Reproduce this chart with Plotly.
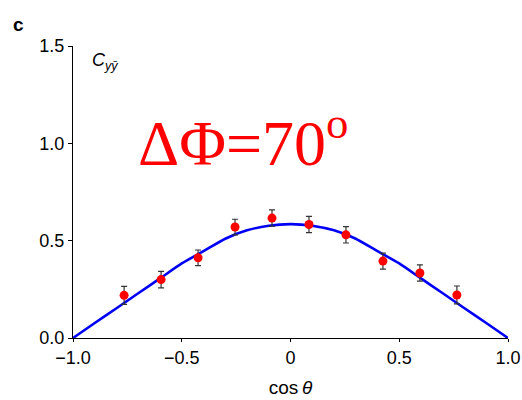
import plotly.graph_objects as go

# Measured C_yy-bar versus cos(theta)
cos_theta = [-0.765, -0.595, -0.425, -0.255, -0.085, 0.085, 0.255, 0.425, 0.595, 0.765]
c_meas = [0.219, 0.300, 0.412, 0.570, 0.616, 0.583, 0.530, 0.395, 0.334, 0.221]
c_err = [0.046, 0.042, 0.040, 0.040, 0.042, 0.042, 0.042, 0.041, 0.042, 0.046]

# Theory curve sampled along cos(theta)
curve_x = [-1.0, -0.9, -0.8, -0.7, -0.6, -0.5, -0.4, -0.3, -0.2, -0.1, 0.0,
           0.1, 0.2, 0.3, 0.4, 0.5, 0.6, 0.7, 0.8, 0.9, 1.0]
curve_y = [0.0, 0.077, 0.153, 0.230, 0.306, 0.383, 0.446, 0.510, 0.553, 0.577, 0.585,
           0.577, 0.553, 0.510, 0.446, 0.383, 0.306, 0.230, 0.153, 0.077, 0.0]

x_ticks = [-1.0, -0.5, 0.0, 0.5, 1.0]
x_ticktext = ["\u22121.0", "\u22120.5", "0", "0.5", "1.0"]
y_ticks = [0.0, 0.5, 1.0, 1.5]
y_ticktext = ["0.0", "0.5", "1.0", "1.5"]

font = "Liberation Sans, Arial, sans-serif"

fig = go.Figure()
fig.add_trace(go.Scatter(
    x=curve_x, y=curve_y, mode="lines",
    line=dict(color="#0000f5", width=2.6, shape="spline", smoothing=0.6),
    hoverinfo="skip", showlegend=False,
))
fig.add_trace(go.Scatter(
    x=cos_theta, y=c_meas, mode="markers",
    marker=dict(color="#ff0000", size=9, line=dict(width=0)),
    error_y=dict(type="data", array=c_err, visible=True,
                 color="#333333", thickness=1.2, width=3),
    showlegend=False,
))

fig.update_layout(
    width=522, height=400, autosize=False,
    margin=dict(l=73, r=14, t=46, b=62, autoexpand=False),
    paper_bgcolor="white", plot_bgcolor="white",
    font=dict(family=font, size=18, color="black"),
    xaxis=dict(
        range=[-1.0, 1.0], tickvals=x_ticks, ticktext=x_ticktext,
        automargin=False,
        showline=True, linecolor="black", linewidth=1.3,
        ticks="outside", ticklen=3, tickwidth=1.3, tickcolor="black",
        showgrid=False, zeroline=False,
        title=dict(text="cos\u2009<i>\u03b8</i>", font=dict(size=19), standoff=13),
    ),
    yaxis=dict(
        range=[0.0, 1.5], tickvals=y_ticks, ticktext=y_ticktext,
        automargin=False,
        showline=True, linecolor="black", linewidth=1.3,
        ticks="outside", ticklen=4, tickwidth=1.3, tickcolor="black",
        showgrid=False, zeroline=False,
    ),
    annotations=[
        dict(text="<b>c</b>", xref="paper", yref="paper", x=-0.125, y=1.075,
             xanchor="center", yanchor="middle", showarrow=False,
             font=dict(size=19, family=font)),
        dict(text="<i>C</i><sub><i>y\u0233</i></sub>", xref="x", yref="y",
             x=-0.92, y=1.42, xanchor="left", yanchor="middle", showarrow=False,
             font=dict(size=18, family=font)),
        dict(text="\u0394\u03a6=70<sup>o</sup>", xref="x", yref="y",
             x=-0.22, y=1.026, xanchor="center", yanchor="middle", showarrow=False,
             font=dict(size=64, family="Liberation Serif, Times New Roman, serif",
                       color="#ff0000")),
    ],
)

fig.write_html("out.html")
